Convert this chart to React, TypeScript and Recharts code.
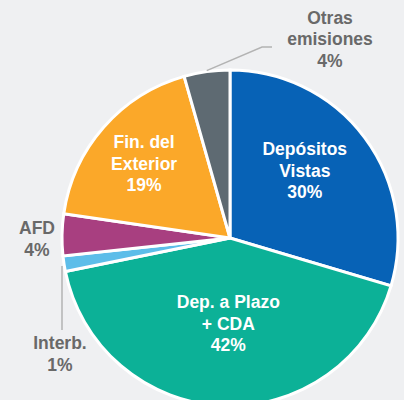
import React from "react";
import { PieChart, Pie, Cell } from "recharts";

const categories = ["Depósitos\nVistas", "Dep. a Plazo\n+ CDA", "Interb.", "AFD", "Fin. del\nExterior", "Otras\nemisiones"];
const values = [29.6, 42.2, 1.5, 4.0, 18.3, 4.4];
const pctLabels = ["30%", "42%", "1%", "4%", "19%", "4%"];
const colors = ["#0762B6", "#0CB197", "#5DBDE9", "#A83F80", "#FBA829", "#5E6A72"];

const data = categories.map((c, i) => ({ name: c, value: values[i], pct: pctLabels[i] }));

const RAD = Math.PI / 180;
const LH = 21.5;

// label placement: inside (radius fraction + nudge) or outside (offset from center)
const placement: any[] = [
  { kind: "in", r: 0.6, nx: -6, ny: -7 },
  { kind: "in", r: 0.5, nx: 2, ny: 2 },
  { kind: "out", dx: -170, dy: 116, line: "down" },
  { kind: "out", dx: -193, dy: 1 },
  { kind: "in", r: 0.68, nx: 0, ny: 1 },
  { kind: "out", dx: 100, dy: -199, line: "elbow" },
];

const renderLabel = (props: any) => {
  const { cx, cy, midAngle, outerRadius, index, payload } = props;
  const p = placement[index];
  const lines = [...String(payload.name).split("\n"), payload.pct];
  let x: number, y: number;
  let fill = "#ffffff";
  const extras: any[] = [];
  if (p.kind === "in") {
    x = cx + outerRadius * p.r * Math.cos(-midAngle * RAD) + p.nx;
    y = cy + outerRadius * p.r * Math.sin(-midAngle * RAD) + p.ny;
  } else {
    x = cx + p.dx;
    y = cy + p.dy;
    fill = "#696969";
    const ex = cx + (outerRadius + 1) * Math.cos(-midAngle * RAD);
    const ey = cy + (outerRadius + 1) * Math.sin(-midAngle * RAD);
    if (p.line === "elbow") {
      extras.push(
        <polyline key="l" points={`${ex},${ey} ${cx + 32},${cy - 191} ${cx + 42},${cy - 191}`} fill="none" stroke="#B3B3B3" strokeWidth={1.5} />
      );
    } else if (p.line === "down") {
      extras.push(
        <line key="l" x1={ex - 1} y1={ey + 2} x2={ex - 1} y2={cy + 92} stroke="#B3B3B3" strokeWidth={1.5} />
      );
    }
  }
  const startY = y - ((lines.length - 1) * LH) / 2;
  return (
    <g>
      {extras}
      <text x={x} textAnchor="middle" dominantBaseline="central" fill={fill} fontFamily="'Liberation Sans', Arial, sans-serif" fontWeight="bold" fontSize={17.5}>
        {lines.map((l: string, i: number) => (
          <tspan key={i} x={x} y={startY + i * LH}>{l}</tspan>
        ))}
      </text>
    </g>
  );
};

export default function App() {
  return (
    <div style={{ position: "absolute", left: 0, top: 0, width: 404, height: 400, background: "#EFF0F2" }}>
      <PieChart width={404} height={400} margin={{ top: 0, right: 0, bottom: 0, left: 0 }}>
        <Pie
          data={data}
          dataKey="value"
          cx={230}
          cy={238}
          outerRadius={168}
          startAngle={90}
          endAngle={-270}
          stroke="#ffffff"
          strokeWidth={3}
          label={renderLabel}
          labelLine={false}
          isAnimationActive={false}
        >
          {data.map((d, i) => (
            <Cell key={i} fill={colors[i]} />
          ))}
        </Pie>
      </PieChart>
    </div>
  );
}
